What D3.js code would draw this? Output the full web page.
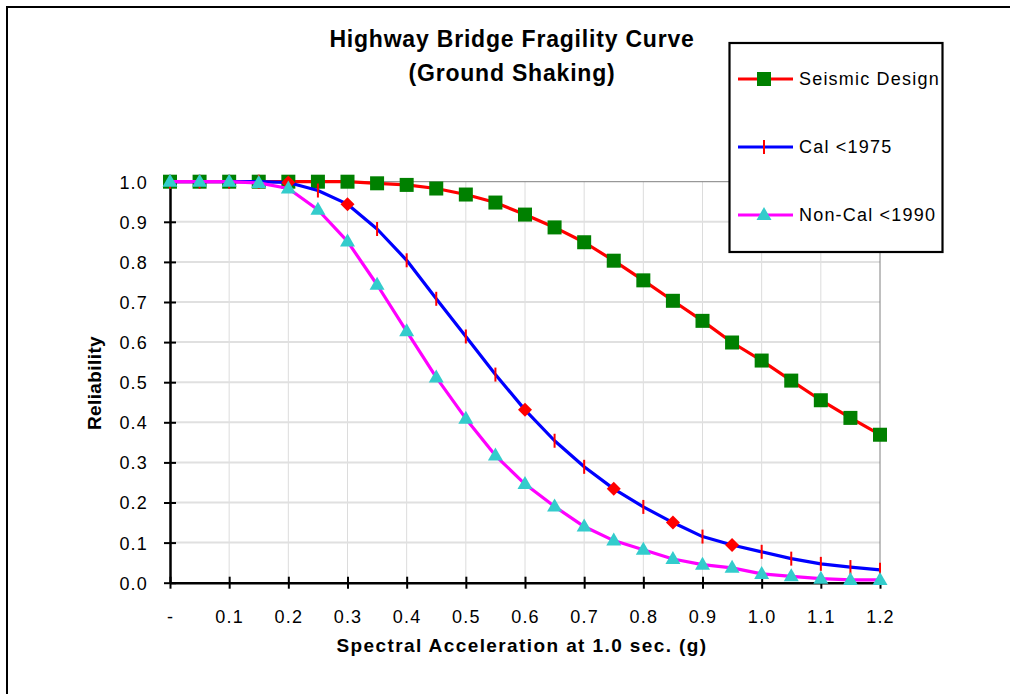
<!DOCTYPE html>
<html>
<head>
<meta charset="utf-8">
<script src="https://cdn.jsdelivr.net/npm/d3@7"></script>
<style>
  html, body { margin: 0; padding: 0; background: #fff; }
  svg { display: block; }
  text { font-family: "Liberation Sans", Arial, sans-serif; fill: #000; }
</style>
</head>
<body>
<svg id="chart" width="1010" height="694"></svg>
<script>
// ---- data ----
const xValues = [0, 0.05, 0.1, 0.15, 0.2, 0.25, 0.3, 0.35, 0.4, 0.45, 0.5, 0.55, 0.6,
                 0.65, 0.7, 0.75, 0.8, 0.85, 0.9, 0.95, 1.0, 1.05, 1.1, 1.15, 1.2];
const seismicDesign = [1.0, 1.0, 1.0, 1.0, 1.0, 1.0, 1.0, 0.996, 0.992, 0.983, 0.968, 0.948, 0.918,
                       0.886, 0.849, 0.803, 0.754, 0.703, 0.653, 0.599, 0.554, 0.504, 0.455, 0.411, 0.369];
const cal1975 = [1.0, 1.0, 1.0, 1.0, 0.998, 0.978, 0.944, 0.882, 0.804, 0.708, 0.614, 0.519, 0.431,
                 0.354, 0.289, 0.234, 0.189, 0.150, 0.115, 0.094, 0.077, 0.060, 0.047, 0.039, 0.032];
// marker shape used at each Cal <1975 point ("dash" or "diamond")
const cal1975Markers = ["dash", "dash", "dash", "dash", "diamond", "dash", "diamond", "dash", "dash", "dash",
                        "dash", "dash", "diamond", "dash", "dash", "diamond", "dash", "diamond", "dash",
                        "diamond", "dash", "dash", "dash", "dash", "dash"];
const nonCal1990 = [1.0, 1.0, 1.0, 0.997, 0.983, 0.930, 0.851, 0.743, 0.627, 0.512, 0.409, 0.317, 0.246,
                    0.190, 0.140, 0.105, 0.082, 0.059, 0.045, 0.037, 0.022, 0.016, 0.010, 0.007, 0.007];
const seriesNames = ["Seismic Design", "Cal <1975", "Non-Cal <1990"];
const xTickValues = [0, 0.1, 0.2, 0.3, 0.4, 0.5, 0.6, 0.7, 0.8, 0.9, 1.0, 1.1, 1.2];
const xTickLabels = ["-", "0.1", "0.2", "0.3", "0.4", "0.5", "0.6", "0.7", "0.8", "0.9", "1.0", "1.1", "1.2"];
const yTickValues = [0, 0.1, 0.2, 0.3, 0.4, 0.5, 0.6, 0.7, 0.8, 0.9, 1.0];
const yTickLabels = ["0.0", "0.1", "0.2", "0.3", "0.4", "0.5", "0.6", "0.7", "0.8", "0.9", "1.0"];
const titleLines = ["Highway Bridge Fragility Curve", "(Ground Shaking)"];
const xTitle = "Spectral Acceleration at 1.0 sec. (g)";
const yTitle = "Reliability";

// ---- layout ----
const svg = d3.select("#chart");
const plot = { left: 170, right: 880, top: 181.7, bottom: 582.7 };
const x = d3.scaleLinear().domain([0, 1.2]).range([plot.left, plot.right]);
const y = d3.scaleLinear().domain([0, 1]).range([plot.bottom, plot.top]);

// outer chart border (extends past the window on right/bottom)
svg.append("rect").attr("x", 7).attr("y", 7).attr("width", 1030).attr("height", 720)
  .attr("fill", "none").attr("stroke", "#000").attr("stroke-width", 2);

// title
const title = svg.append("text").attr("text-anchor", "middle")
  .style("font-weight", "bold").style("font-size", "23px").style("letter-spacing", "0.8px");
titleLines.forEach((t, i) => {
  title.append("tspan").attr("x", 512).attr("y", 47 + i * 34).text(t);
});

// grid
const g = svg.append("g");
g.selectAll(".vgrid").data(xTickValues.filter(v => v > 0 && v < 1.2)).enter().append("line")
  .attr("x1", d => x(d)).attr("x2", d => x(d)).attr("y1", plot.top).attr("y2", plot.bottom)
  .attr("stroke", "#dcdcdc").attr("stroke-width", 1);
g.selectAll(".hgrid").data(yTickValues.filter(v => v > 0 && v < 1)).enter().append("line")
  .attr("x1", plot.left).attr("x2", plot.right).attr("y1", d => y(d)).attr("y2", d => y(d))
  .attr("stroke", "#e0e0e0").attr("stroke-width", 2);
// plot border top/right
g.append("line").attr("x1", plot.left).attr("x2", plot.right).attr("y1", plot.top).attr("y2", plot.top)
  .attr("stroke", "#808080").attr("stroke-width", 1);
g.append("line").attr("x1", plot.right).attr("x2", plot.right).attr("y1", plot.top).attr("y2", plot.bottom)
  .attr("stroke", "#808080").attr("stroke-width", 1);

// axes
const xAxis = d3.axisBottom(x).tickValues(xTickValues).tickSizeInner(6).tickSizeOuter(0)
  .tickFormat((d, i) => xTickLabels[i]);
const yAxis = d3.axisLeft(y).tickValues(yTickValues).tickSizeInner(6).tickSizeOuter(0)
  .tickFormat((d, i) => yTickLabels[i]);

const gx = svg.append("g").attr("transform", `translate(0,${plot.bottom})`).call(xAxis);
gx.select(".domain").attr("stroke", "#000").attr("stroke-width", 2.5);
gx.selectAll(".tick line").attr("stroke", "#000").attr("stroke-width", 2).attr("y1", -6).attr("y2", 6);
gx.selectAll(".tick text").attr("y", 0).attr("dy", "40px")
  .style("font-size", "18px").style("letter-spacing", "1.2px").style("font-family", "'Liberation Sans', Arial, sans-serif");

const gy = svg.append("g").attr("transform", `translate(${plot.left},0)`).call(yAxis);
gy.select(".domain").attr("stroke", "#000").attr("stroke-width", 2.5);
gy.selectAll(".tick line").attr("stroke", "#000").attr("stroke-width", 2).attr("x1", -6).attr("x2", 6);
gy.selectAll(".tick text").attr("x", -22).attr("dy", "0.36em")
  .style("font-size", "18px").style("letter-spacing", "1.2px").style("font-family", "'Liberation Sans', Arial, sans-serif");

// axis titles
svg.append("text").attr("x", 522).attr("y", 652).attr("text-anchor", "middle")
  .style("font-weight", "bold").style("font-size", "19px").style("letter-spacing", "1.4px").text(xTitle);
svg.append("text").attr("transform", "translate(101,383) rotate(-90)").attr("text-anchor", "middle")
  .style("font-weight", "bold").style("font-size", "19px").style("letter-spacing", "0.4px").text(yTitle);

// series
const line = d3.line().x(d => x(d[0])).y(d => y(d[1]));
const mk = (vals) => xValues.map((xv, i) => [xv, vals[i]]);
const series = [
  { name: seriesNames[0], data: mk(seismicDesign), color: "#ff0000" },
  { name: seriesNames[1], data: mk(cal1975), color: "#0000ff" },
  { name: seriesNames[2], data: mk(nonCal1990), color: "#ff00ff" }
];

function drawSquare(sel, cx, cy) {
  sel.append("rect").attr("x", cx - 7).attr("y", cy - 7).attr("width", 14).attr("height", 14)
    .attr("fill", "#008000");
}
function drawDash(sel, cx, cy) {
  sel.append("line").attr("x1", cx).attr("x2", cx).attr("y1", cy - 7).attr("y2", cy + 7)
    .attr("stroke", "#ff0000").attr("stroke-width", 2);
}
function drawDiamond(sel, cx, cy) {
  sel.append("path").attr("d", `M${cx},${cy - 7}L${cx + 7},${cy}L${cx},${cy + 7}L${cx - 7},${cy}Z`)
    .attr("fill", "#ff0000");
}
function drawTriangle(sel, cx, cy) {
  sel.append("path").attr("d", `M${cx},${cy - 8}L${cx + 7.5},${cy + 5}L${cx - 7.5},${cy + 5}Z`)
    .attr("fill", "#33cccc");
}

series.forEach((s, si) => {
  const sg = svg.append("g");
  sg.append("path").attr("d", line(s.data)).attr("fill", "none")
    .attr("stroke", s.color).attr("stroke-width", 3.2).attr("stroke-linejoin", "round");
  s.data.forEach((d, i) => {
    const cx = x(d[0]), cy = y(d[1]);
    if (si === 0) drawSquare(sg, cx, cy);
    else if (si === 1) (cal1975Markers[i] === "diamond" ? drawDiamond : drawDash)(sg, cx, cy);
    else drawTriangle(sg, cx, cy);
  });
});

// legend
const lg = svg.append("g");
lg.append("rect").attr("x", 729.5).attr("y", 43).attr("width", 213).attr("height", 209)
  .attr("fill", "#fff").attr("stroke", "#000").attr("stroke-width", 2.2);
const legendY = [79, 147, 215];
series.forEach((s, si) => {
  const ly = legendY[si];
  lg.append("line").attr("x1", 738).attr("x2", 793).attr("y1", ly).attr("y2", ly)
    .attr("stroke", s.color).attr("stroke-width", 3.2);
  if (si === 0) drawSquare(lg, 764, ly);
  else if (si === 1) drawDash(lg, 764, ly);
  else drawTriangle(lg, 764, ly);
  lg.append("text").attr("x", 799).attr("y", ly).attr("dy", "0.36em")
    .style("font-size", "18px").style("letter-spacing", "1.2px").text(s.name);
});
</script>
</body>
</html>
